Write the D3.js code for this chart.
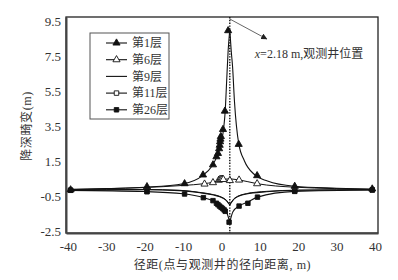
<!DOCTYPE html>
<html>
<head>
<meta charset="utf-8">
<script src="https://cdn.jsdelivr.net/npm/d3@7"></script>
<style>
  body { margin: 0; background: #fff; }
  svg text { font-family: "Liberation Serif", "Noto Sans CJK SC", serif; fill: #333; }
  .cjk { font-family: "Liberation Serif", "Noto Sans CJK SC", sans-serif; }
</style>
</head>
<body>
<svg width="398" height="280"></svg>
<script>
// tick labels
const xTicks = [-40, -30, -20, -10, 0, 10, 20, 30, 40];
const yTicks = [-2.5, -0.5, 1.5, 3.5, 5.5, 7.5, 9.5];
const wellX = 2.18;

// layer names
const layers = ["第1层", "第6层", "第9层", "第11层", "第26层"];

// curves [x, drawdown]
const line1 = [[-40,-0.15],[-30,-0.08],[-20,0.0],[-10,0.2],[-5,0.65],[-2.5,1.2],[-1,1.85],[0,2.6],[0.6,3.4],[1.0,4.4],[1.35,6.0],[1.75,7.8],[2.18,9.0],
               [2.55,7.8],[2.9,6.9],[3.4,4.9],[4.5,2.5],[6,1.5],[8.7,0.7],[12,0.35],[19,0.05],[30,-0.06],[40,-0.12]];
const line6 = [[-40,-0.12],[-20,-0.02],[-10,0.1],[-4.5,0.2],[-2.2,0.28],[0,0.42],[2.18,0.48],[4.5,0.42],[9.3,0.2],[19,0.0],[40,-0.12]];
const line9 = [[-40,-0.17],[-20,-0.15],[-10.8,-0.2],[-5.6,-0.32],[-2,-0.45],[-0.4,-0.55],[1.3,-0.77],[2.18,-1.02],
               [3.5,-0.64],[6.5,-0.39],[11.7,-0.26],[20,-0.18],[40,-0.15]];
const line11 = [[-40,-0.16],[-20,-0.13],[-10.8,-0.18],[-5.6,-0.3],[-2,-0.43],[-0.4,-0.53],[1.3,-0.75],[2.18,-1.0],
               [3.5,-0.62],[6.5,-0.37],[11.7,-0.24],[20,-0.17],[40,-0.14]];
const line26 = [[-40,-0.18],[-20,-0.25],[-10,-0.38],[-4.6,-0.6],[-2.3,-0.77],[0,-1.1],[1.3,-1.4],[2.18,-2.0],
                [3,-1.4],[4.6,-1.08],[6.9,-0.85],[9.4,-0.57],[19.1,-0.24],[40,-0.16]];

// measured points
const pts1 = [[-39.3,-0.15],[-19.4,0.03],[-9.6,0.2],[-4.8,0.7],[-2.2,1.28],[-1.3,1.74],[-0.9,1.93],[-0.6,2.2],[-0.45,2.4],[-0.35,2.6],[-0.25,2.75],[-0.15,2.9],
              [0.4,3.3],[0.9,4.35],[1.75,8.95],[4.5,2.45],[9.3,0.66],[19.1,0.05],[39.3,-0.1]];
const pts6 = [[-4.4,0.18],[-2.2,0.26],[-0.7,0.4],[-0.4,0.44],[-0.1,0.46],[0.2,0.46],[0.5,0.44],[2.2,0.38],[4.6,0.41],[9.3,0.2]];
const pts11 = [[-39.3,-0.17],[-19.4,-0.24],[19.1,-0.22],[39.3,-0.16]];
const pts26 = [[-39.3,-0.18],[-19.4,-0.26],[-9.6,-0.39],[-4.7,-0.6],[-2.2,-0.77],[-1.3,-0.92],[-0.9,-1.0],[-0.5,-1.08],[-0.1,-1.15],[0.3,-1.22],
               [0.7,-1.3],[1.0,-1.38],[2.0,-2.0],[4.6,-1.08],[6.9,-0.92],[9.4,-0.57],[19.1,-0.24],[39.3,-0.16]];

const svg = d3.select("svg"),
    margin = {top: 17, right: 20, bottom: 47, left: 66},
    width = 398 - margin.left - margin.right,
    height = 280 - margin.top - margin.bottom,
    g = svg.append("g").attr("transform", "translate(" + margin.left + "," + margin.top + ")");

const x = d3.scaleLinear().domain([-40.5, 40.8]).range([0, width]);
const y = d3.scaleLinear().domain([-2.62, 9.73]).range([height, 0]);

// frame
g.append("rect")
    .attr("width", width).attr("height", height)
    .attr("fill", "none").attr("stroke", "#222").attr("stroke-width", 1.3);

// axes (labels only)
const xAx = g.append("g")
    .attr("transform", "translate(0," + height + ")")
    .call(d3.axisBottom(x).tickValues(xTicks).tickSize(0).tickPadding(9));
const yAx = g.append("g")
    .call(d3.axisLeft(y).tickValues(yTicks).tickSize(0).tickPadding(5).tickFormat(d3.format(".1f")));
[xAx, yAx].forEach(a => {
    a.select(".domain").attr("stroke", "#444").attr("stroke-width", 2);
    a.selectAll("text").attr("font-size", 13).attr("font-family", "Liberation Serif").attr("fill", "#333");
});
xAx.selectAll("text").text(d => d < 0 ? "-" + (-d) : d);
yAx.selectAll("text").text(d => d3.format(".1f")(d).replace("−", "-"));

// well position
g.append("line")
    .attr("x1", x(wellX)).attr("x2", x(wellX))
    .attr("y1", 0).attr("y2", height)
    .attr("stroke", "#111").attr("stroke-width", 1.4).attr("stroke-dasharray", "1.4,1.4");

// curves, split at the well so the peak stays sharp
const lineGen = d3.line().x(d => x(d[0])).y(d => y(d[1])).curve(d3.curveMonotoneX);
function drawCurve(data, w) {
    const left = data.filter(d => d[0] <= wellX), right = data.filter(d => d[0] >= wellX);
    [left, right].forEach(part => {
        g.append("path").datum(part)
            .attr("d", lineGen)
            .attr("fill", "none").attr("stroke", "#111").attr("stroke-width", w);
    });
}
drawCurve(line9, 1.1);
drawCurve(line11, 1);
drawCurve(line6, 1);
drawCurve(line26, 1.1);
drawCurve(line1, 1.1);

const tri = d3.symbol().type(d3.symbolTriangle).size(22);
const sq = d3.symbol().type(d3.symbolSquare).size(20);
function drawPts(data, sym, fill) {
    g.append("g").selectAll("path").data(data).join("path")
        .attr("transform", d => "translate(" + x(d[0]) + "," + y(d[1]) + ")")
        .attr("d", sym)
        .attr("fill", fill).attr("stroke", "#111").attr("stroke-width", 0.9);
}
drawPts(pts11, sq, "#fff");
drawPts(pts6, tri, "#fff");
drawPts(pts26, sq, "#111");
drawPts(pts1, tri, "#111");

// annotation
svg.append("defs").append("marker")
    .attr("id", "arr").attr("viewBox", "0 0 10 10").attr("refX", 9).attr("refY", 5)
    .attr("markerWidth", 7).attr("markerHeight", 7).attr("orient", "auto")
  .append("path").attr("d", "M0,0L10,5L0,10z").attr("fill", "#222");
g.append("line")
    .attr("x1", x(wellX)).attr("y1", 2)
    .attr("x2", x(wellX) + 37).attr("y2", 22)
    .attr("stroke", "#555").attr("stroke-width", 0.9)
    .attr("marker-end", "url(#arr)");
const ann = g.append("text")
    .attr("x", x(wellX) + 25).attr("y", 41)
    .attr("font-size", 12).attr("class", "cjk");
ann.append("tspan").attr("font-style", "italic").text("x");
ann.append("tspan").text("=2.18 m,观测井位置");

// legend
const leg = g.append("g").attr("transform", "translate(24,16)");
leg.append("rect").attr("width", 79).attr("height", 86)
    .attr("fill", "#fff").attr("stroke", "#555").attr("stroke-width", 1);
const legSym = [[tri, "#111"], [tri, "#fff"], [null, null], [sq, "#fff"], [sq, "#111"]];
layers.forEach((name, i) => {
    const row = leg.append("g").attr("transform", "translate(0," + (10 + i * 16.7) + ")");
    row.append("line").attr("x1", 16).attr("x2", 37)
        .attr("stroke", "#111").attr("stroke-width", 1.1);
    if (legSym[i][0]) {
        row.append("path").attr("transform", "translate(26.5,0)")
            .attr("d", legSym[i][0]).attr("fill", legSym[i][1])
            .attr("stroke", "#111").attr("stroke-width", 0.9);
    }
    row.append("text").attr("x", 42).attr("dy", "0.36em")
        .attr("font-size", 12).attr("class", "cjk").text(name);
});

// axis titles
svg.append("text")
    .attr("x", margin.left + x(0) + 1).attr("y", 269)
    .attr("text-anchor", "middle").attr("font-size", 12).attr("class", "cjk")
    .attr("letter-spacing", 0.6)
    .text("径距(点与观测井的径向距离, m)");
svg.append("text")
    .attr("transform", "translate(31,126) rotate(-90)")
    .attr("text-anchor", "middle").attr("font-size", 12).attr("class", "cjk")
    .attr("letter-spacing", 0.6)
    .text("降深畸变(m)");
</script>
</body>
</html>
